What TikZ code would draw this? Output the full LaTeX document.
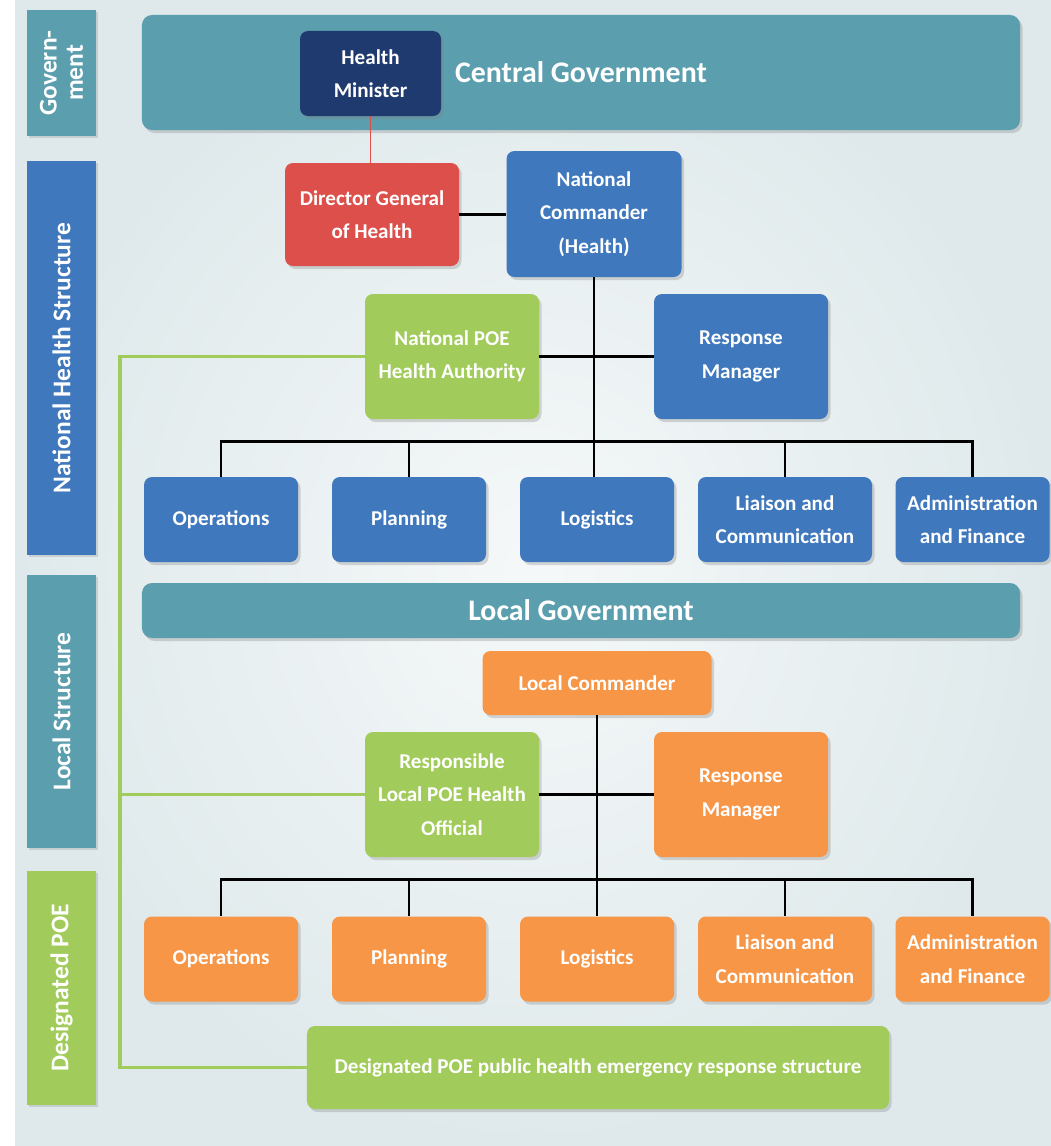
\documentclass[tikz,border=0pt]{standalone}
\usepackage{fontspec}
\setmainfont{Carlito}
\usepackage{xcolor}
\definecolor{cTeal}{HTML}{5B9EAE}
\definecolor{cBlue}{HTML}{3F78BD}
\definecolor{cNavy}{HTML}{1F3A6F}
\definecolor{cRed}{HTML}{DC4F4B}
\definecolor{cGreen}{HTML}{A1CB5A}
\definecolor{cOrange}{HTML}{F79647}
\definecolor{cBack}{HTML}{DFE9EB}
\usepackage{tikz}
\usetikzlibrary{positioning,shadows,calc}
\tikzset{
  node-box/.style={rounded corners=1.6mm,text=white,align=center,inner sep=0pt,
    font=\bfseries\fontsize{12}{19}\selectfont,
    drop shadow={shadow xshift=0.5mm,shadow yshift=-0.6mm,opacity=0.3}},
  node-mid/.style={node-box,minimum width=34.8mm,minimum height=25mm},
  node-row/.style={node-box,minimum height=17mm},
  node-bar/.style={node-box,fill=cTeal,minimum width=175.6mm,rounded corners=2mm,
    font=\bfseries\fontsize{17}{20}\selectfont},
  node-side/.style={rotate=90,text=white,align=center,inner sep=0pt,
    minimum height=13.8mm,font=\bfseries\fontsize{14.5}{15}\selectfont,
    drop shadow={shadow xshift=0.4mm,shadow yshift=-0.4mm,opacity=0.25}},
  link/.style={line width=1.6pt,draw=black},
  link-green/.style={line width=1.8pt,draw=cGreen},
  link-red/.style={line width=1pt,draw=cRed},
}

\begin{document}
\begin{tikzpicture}[x=0.2mm,y=-0.2mm]
  \useasboundingbox (0,0) rectangle (1051,1146);
  \fill[white] (0,0) rectangle (1051,1146);
  \shade[inner color=cBack!30!white,outer color=cBack] (15,0) rectangle (1051,1146);

  % side bands
  \node[node-side,fill=cTeal,minimum width=25.2mm] (side-gov) at (61.5,73) {Govern-\\ment};
  \node[node-side,fill=cBlue,minimum width=78.8mm] (side-nat) at (61.5,358) {National Health Structure};
  \node[node-side,fill=cTeal,minimum width=54.6mm] (side-loc) at (61.5,711.5) {Local Structure};
  \node[node-side,fill=cGreen,minimum width=46.8mm] (side-poe) at (61.5,988) {Designated POE};

  % national level
  \node[node-bar,minimum height=23mm] (central-gov) at (581,72.5) {Central Government};
  \node[node-box,fill=cNavy,minimum width=28.2mm,minimum height=17mm] (health-min) at (370.5,73.5) {Health\\Minister};
  \node[node-box,fill=cRed,minimum width=34.8mm,minimum height=20.6mm] (dir-gen) at (372,214.5) {Director General\\of Health};
  \node[node-box,fill=cBlue,minimum width=35mm,minimum height=25.2mm] (nat-cmd) at (594,214) {National\\Commander\\(Health)};
  \node[node-mid,fill=cGreen] (nat-poe) at (452,356.5) {National POE\\Health Authority};
  \node[node-mid,fill=cBlue] (nat-resp) at (741,356.5) {Response\\Manager};
  \foreach \name/\x/\w/\txt in {ops/221/30.8/Operations,plan/409/30.8/Planning,log/597/30.8/Logistics,
      liai/785/34.8/{Liaison and\\Communication},adm/972.5/30.8/{Administration\\and Finance}}
    \node[node-row,fill=cBlue,minimum width=\w mm] (nat-\name) at (\x,519.5) {\txt};

  % local level
  \node[node-bar,minimum height=11mm] (local-gov) at (581,610.5) {Local Government};
  \node[node-box,fill=cOrange,minimum width=45.8mm,minimum height=12.8mm] (loc-cmd) at (597,683) {Local Commander};
  \node[node-mid,fill=cGreen] (loc-poe) at (452,794.5) {Responsible\\Local POE Health\\Official};
  \node[node-mid,fill=cOrange] (loc-resp) at (741,794.5) {Response\\Manager};
  \foreach \name/\x/\w/\txt in {ops/221/30.8/Operations,plan/409/30.8/Planning,log/597/30.8/Logistics,
      liai/785/34.8/{Liaison and\\Communication},adm/972.5/30.8/{Administration\\and Finance}}
    \node[node-row,fill=cOrange,minimum width=\w mm] (loc-\name) at (\x,959) {\txt};
  \node[node-box,fill=cGreen,minimum width=116.4mm,minimum height=16.6mm] (poe-resp) at (598,1067.5)
    {Designated POE public health emergency response structure};

  % connectors
  \draw[link-red] (health-min.south) -- (health-min.south |- dir-gen.north);
  \draw[link] (dir-gen.east) -- (dir-gen.east -| nat-cmd.west);
  \draw[link] (nat-cmd.south) -- (nat-cmd.south |- nat-log.north);
  \draw[link] (nat-poe.east) -- (nat-poe.east -| nat-resp.west);
  \draw[link] (nat-ops.north) -- ++(0,-35) -| (nat-adm.north);
  \foreach \n in {plan,liai} \draw[link] (nat-\n.north) -- ++(0,-35);

  \draw[link] (loc-cmd.south) -- (loc-cmd.south |- loc-log.north);
  \draw[link] (loc-poe.east) -- (loc-poe.east -| loc-resp.west);
  \draw[link] (loc-ops.north) -- ++(0,-37) -| (loc-adm.north);
  \foreach \n in {plan,liai} \draw[link] (loc-\n.north) -- ++(0,-37);

  \coordinate (rail) at (120,0);
  \draw[link-green] (nat-poe.west) -- (nat-poe.west -| rail) -- (rail |- poe-resp.west) -- (poe-resp.west);
  \draw[link-green] (loc-poe.west) -- (loc-poe.west -| rail);
\end{tikzpicture}
\end{document}
